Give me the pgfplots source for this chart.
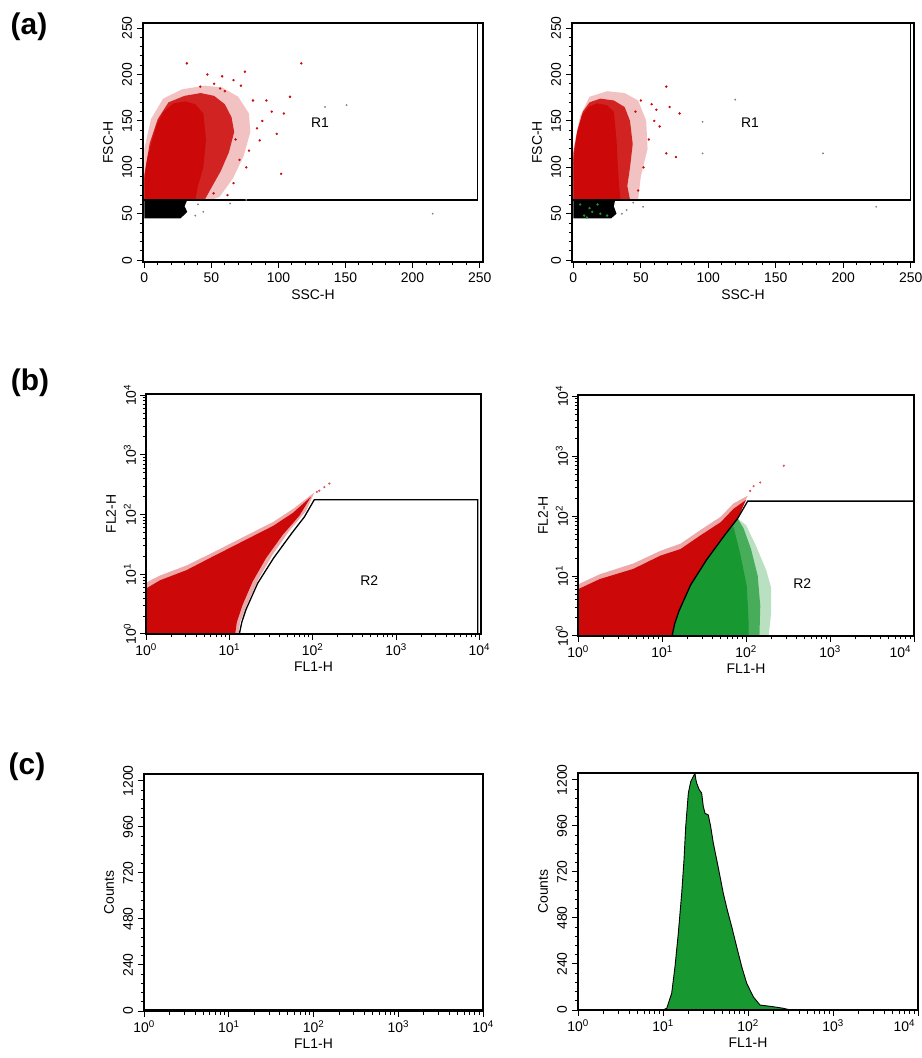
\documentclass[border=0pt]{standalone}
\usepackage{pgfplots}
\pgfplotsset{compat=1.18}
\usepackage{fontspec}
\setmainfont{Liberation Sans}
\definecolor{fred}{RGB}{204,8,8}
\definecolor{fgreen}{RGB}{24,152,48}
\pgfplotsset{
 fc/.style={scale only axis, axis on top, axis line style={line width=1.5bp},
  tick align=outside, tick pos=left, major tick length=6bp, minor tick length=3.5bp,
  tick style={line width=1bp, black},
  /pgf/number format/assume math mode=true, /pgf/number format/1000 sep={},
  ticklabel style={font=\fontsize{14}{14}\selectfont},
  xticklabel style={anchor=center, yshift=-10bp},
  yticklabel style={xshift=-10bp, rotate=90, anchor=center},
  every axis x label/.style={at={(axis description cs:0.5,0)}, anchor=center, yshift=-33bp},
  every axis y label/.style={at={(axis description cs:0,0.5)}, xshift=-35bp, rotate=90, anchor=center},
  label style={font=\fontsize{14}{14}\selectfont}},
 logx/.style={xmin=0, xtick={0,1,2,3,4},
  xticklabels={10\textsuperscript{0},10\textsuperscript{1},10\textsuperscript{2},10\textsuperscript{3},10\textsuperscript{4}},
  minor xtick={0.301,0.477,0.602,0.699,0.778,0.845,0.903,0.954,1.301,1.477,1.602,1.699,1.778,1.845,1.903,1.954,2.301,2.477,2.602,2.699,2.778,2.845,2.903,2.954,3.301,3.477,3.602,3.699,3.778,3.845,3.903,3.954}},
 logxr/.style={logx,
  xticklabels={10\textsuperscript{0},10\textsuperscript{1},10\textsuperscript{2},10\textsuperscript{3},\hbox to 0pt{\hss 10\textsuperscript{4}\hskip 3bp}}},
 logy/.style={ymin=0, ytick={0,1,2,3,4},
  yticklabels={10\textsuperscript{0},10\textsuperscript{1},10\textsuperscript{2},10\textsuperscript{3},10\textsuperscript{4}},
  minor ytick={0.301,0.477,0.602,0.699,0.778,0.845,0.903,0.954,1.301,1.477,1.602,1.699,1.778,1.845,1.903,1.954,2.301,2.477,2.602,2.699,2.778,2.845,2.903,2.954,3.301,3.477,3.602,3.699,3.778,3.845,3.903,3.954}},
 lin/.style={xmin=-1, xmax=252.5, ymin=-2, ymax=255.5, xtick={0,50,100,150,200,250}, ytick={0,50,100,150,200,250}, minor tick num=4},
 hist/.style={ymin=0, ymax=1236, xmax=4, ytick={0,240,480,720,960,1200}, minor y tick num=4}
}
\begin{document}
\begin{tikzpicture}
\useasboundingbox (0,0) rectangle (922bp,1058bp);
\node[font=\fontsize{30}{30}\selectfont\bfseries] at (29bp,1031bp) {(a)};
\node[font=\fontsize{30}{30}\selectfont\bfseries] at (30bp,675bp) {(b)};
\node[font=\fontsize{30}{30}\selectfont\bfseries] at (27bp,291bp) {(c)};

% (a) left
\begin{axis}[fc, lin, at={(143bp,796bp)}, anchor=south west, width=340bp, height=239bp, xlabel={SSC-H}, ylabel={FSC-H}]
\addplot[fill=fred, fill opacity=0.25, draw=none] coordinates {(0,65)(0,120)(5,152)(14,174)(28,184)(45,188)(58,186)(70,176)(78,158)(79,138)(74,112)(66,88)(56,68)(50,65)(0,65)};
\addplot[fill=fred, fill opacity=0.85, draw=none] coordinates {(0,65)(0,92)(4,126)(10,152)(18,170)(30,177)(42,180)(52,177)(60,168)(65,154)(67,138)(63,116)(57,96)(50,78)(45,65)(0,65)};
\addplot[fill=fred, draw=none] coordinates {(0,65)(0,88)(2,108)(5.7,129)(9.4,147)(14.4,160)(21.8,169)(30.5,171)(38,168)(44,158)(46,130)(44,100)(40,80)(38,65)(0,65)};
\addplot[fill=black, draw=none] coordinates {(0,45)(0,65)(32,65)(30,58)(32,52)(27,45)(0,45)};
\addplot[only marks, mark=*, mark size=1bp, fred] coordinates {(31.7,212)(75,203)(41.7,187)(56.5,185)(66.5,194)(81,172)(91,172)(104,158)(108.6,176)(98.7,136)(86,129)(71,108)(66.5,83)(51.6,72)(117,212)(102,93)(88,150)(95,160)(78,118)(62,70)(47,200)(58,198)(72,188)(84,142)(76,100)(60,182)(68,130)(52,190)};
\addplot[only marks, mark=*, mark size=0.7bp, gray] coordinates {(134.7,165)(150.8,167)(215,50)(64,61)(76,65)(40,60)(44,52)(38,48)};
\addplot[black, line width=1.5bp] coordinates {(0,65)(248.5,65)(248.5,255.5)};
\node[font=\fontsize{14}{14}\selectfont] at (axis cs:131,148) {R1};
\end{axis}

% (a) right
\begin{axis}[fc, lin, at={(572bp,796bp)}, anchor=south west, width=342bp, height=239bp, xlabel={SSC-H}, ylabel={FSC-H}]
\addplot[fill=fred, fill opacity=0.25, draw=none] coordinates {(0,65)(0,120)(5,155)(12,176)(25,182)(38,180)(48,172)(54,150)(55,120)(50,90)(48,65)(0,65)};
\addplot[fill=fred, fill opacity=0.85, draw=none] coordinates {(0,65)(0,115)(3,140)(7,160)(12,170)(20,174)(30,172)(38,165)(42,150)(44,125)(42,100)(40,80)(42,65)(0,65)};
\addplot[fill=fred, draw=none] coordinates {(0,65)(0,108)(2.7,137)(6.4,156)(11.3,165)(17.4,169)(24.8,167)(30,160)(32,130)(33,100)(34,80)(35,65)(0,65)};
\addplot[fill=black, draw=none] coordinates {(0,45)(0,65)(31,65)(30,58)(32,50)(28,45)(0,45)};
\addplot[only marks, mark=*, mark size=1bp, fgreen] coordinates {(8,48)(14,52)(20,50)(12,56)(5,60)(18,60)(25,48)(10,46)};
\addplot[only marks, mark=*, mark size=1bp, fred] coordinates {(68.9,187)(61.5,162)(71.3,165)(78.7,158)(64,144)(68.9,115)(76,111)(56,130)(52,100)(48,75)(58,168)(50,172)(60,150)(46,160)};
\addplot[only marks, mark=*, mark size=0.7bp, gray] coordinates {(95.8,149)(95.8,115)(120,173)(185,115)(224.5,57.5)(51.7,57.5)(44.4,62)(39.5,54)(36,50)};
\addplot[black, line width=1.5bp] coordinates {(0,65)(250,65)(250,255.5)};
\node[font=\fontsize{14}{14}\selectfont] at (axis cs:131,148) {R1};
\end{axis}

% (b) left
\begin{axis}[fc, logx, logy, xmax=4.02, ymax=4.02, at={(146bp,424bp)}, anchor=south west, width=335bp, height=240bp, xlabel={FL1-H}, ylabel={FL2-H}]
\addplot[fill=fred, fill opacity=0.35, draw=none] coordinates {(0,0)(0,0.86)(0.17,0.98)(0.49,1.15)(0.81,1.37)(1.05,1.54)(1.29,1.71)(1.53,1.88)(1.77,2.10)(2.02,2.37)(1.92,2.06)(1.72,1.73)(1.52,1.33)(1.35,0.92)(1.22,0.52)(1.13,0.2)(1.11,0)(0,0)};
\addplot[fill=fred, draw=none] coordinates {(0,0)(0,0.76)(0.168,0.90)(0.487,1.07)(0.806,1.30)(1.046,1.47)(1.285,1.64)(1.525,1.81)(1.764,2.03)(1.98,2.30)(1.84,1.98)(1.64,1.66)(1.44,1.27)(1.28,0.88)(1.16,0.49)(1.09,0.2)(1.07,0)(0,0)};
\addplot[only marks, mark=*, mark size=0.9bp, fred!70!white] coordinates {(2.08,2.40)(2.14,2.46)(2.20,2.52)(2.05,2.38)};
\addplot[black, line width=1.3bp] coordinates {(1.12,0)(1.15,0.2)(1.20,0.41)(1.34,0.85)(1.53,1.27)(1.75,1.69)(1.90,1.96)(2.02,2.25)(3.98,2.25)(3.98,0)};
\node[font=\fontsize{14}{14}\selectfont] at (axis cs:2.68,0.89) {R2};
\end{axis}

% (b) right
\begin{axis}[fc, logxr, logy, xmax=4.0, ymax=4.02, at={(578bp,422bp)}, anchor=south west, width=336bp, height=241bp, xlabel={FL1-H}, ylabel={FL2-H}]
\addplot[fill=fred, fill opacity=0.35, draw=none] coordinates {(0,0)(0,0.86)(0.26,1.03)(0.66,1.21)(0.98,1.42)(1.22,1.54)(1.46,1.77)(1.70,1.99)(1.85,2.21)(2.02,2.34)(1.90,1.96)(1.75,1.69)(1.53,1.27)(1.34,0.85)(1.20,0.41)(1.12,0)(0,0)};
\addplot[fill=fred, draw=none] coordinates {(0,0)(0,0.78)(0.26,0.95)(0.66,1.12)(0.98,1.34)(1.22,1.45)(1.46,1.68)(1.70,1.90)(1.85,2.12)(2.0,2.27)(1.90,1.96)(1.75,1.69)(1.53,1.27)(1.34,0.85)(1.20,0.41)(1.12,0)(0,0)};
\addplot[fill=fgreen, fill opacity=0.3, draw=none] coordinates {(1.12,0)(1.20,0.41)(1.34,0.85)(1.53,1.27)(1.75,1.69)(1.90,1.96)(2.0,1.85)(2.12,1.50)(2.24,1.10)(2.30,0.80)(2.30,0.40)(2.27,0)(1.12,0)};
\addplot[fill=fgreen, fill opacity=0.7, draw=none] coordinates {(1.12,0)(1.20,0.41)(1.34,0.85)(1.53,1.27)(1.75,1.69)(1.90,1.96)(1.97,1.80)(2.06,1.45)(2.14,1.0)(2.17,0.5)(2.16,0)(1.12,0)};
\addplot[fill=fgreen, draw=none] coordinates {(1.12,0)(1.20,0.41)(1.34,0.85)(1.53,1.27)(1.75,1.69)(1.85,1.83)(1.93,1.38)(2.01,0.83)(2.03,0.27)(2.03,0)(1.12,0)};
\addplot[only marks, mark=*, mark size=0.9bp, fred!70!white] coordinates {(2.09,2.50)(2.17,2.56)(2.45,2.84)(2.05,2.42)};
\addplot[black, line width=1.3bp] coordinates {(1.12,0)(1.15,0.2)(1.20,0.41)(1.34,0.85)(1.53,1.27)(1.75,1.69)(1.90,1.96)(2.02,2.25)(4.0,2.25)(4.0,0)};
\node[font=\fontsize{14}{14}\selectfont] at (axis cs:2.67,0.88) {R2};
\end{axis}

% (c) left
\begin{axis}[fc, logx, hist, at={(144bp,47bp)}, anchor=south west, width=339bp, height=237bp, xlabel={FL1-H}, ylabel={Counts}]
\addplot[black, line width=1.5bp] coordinates {(0,4)(4,4)};
\end{axis}

% (c) right
\begin{axis}[fc, logxr, hist, at={(578bp,48bp)}, anchor=south west, width=340bp, height=237bp, xlabel={FL1-H}, ylabel={Counts}]
\addplot[fill=fgreen, draw=black, line width=0.9bp] coordinates {(1.00,0)(1.044,9)(1.102,87)(1.141,226)(1.180,400)(1.220,609)(1.247,783)(1.267,956)(1.298,1131)(1.326,1191)(1.356,1217)(1.376,1236)(1.385,1205)(1.396,1183)(1.427,1148)(1.455,1131)(1.474,1061)(1.494,1026)(1.533,1017)(1.561,956)(1.592,870)(1.632,783)(1.671,696)(1.709,609)(1.756,522)(1.808,435)(1.867,330)(1.926,226)(1.985,139)(2.062,69)(2.141,26)(2.298,17)(2.415,9)(2.5,0)(1.00,0)};
\end{axis}
\end{tikzpicture}
\end{document}
